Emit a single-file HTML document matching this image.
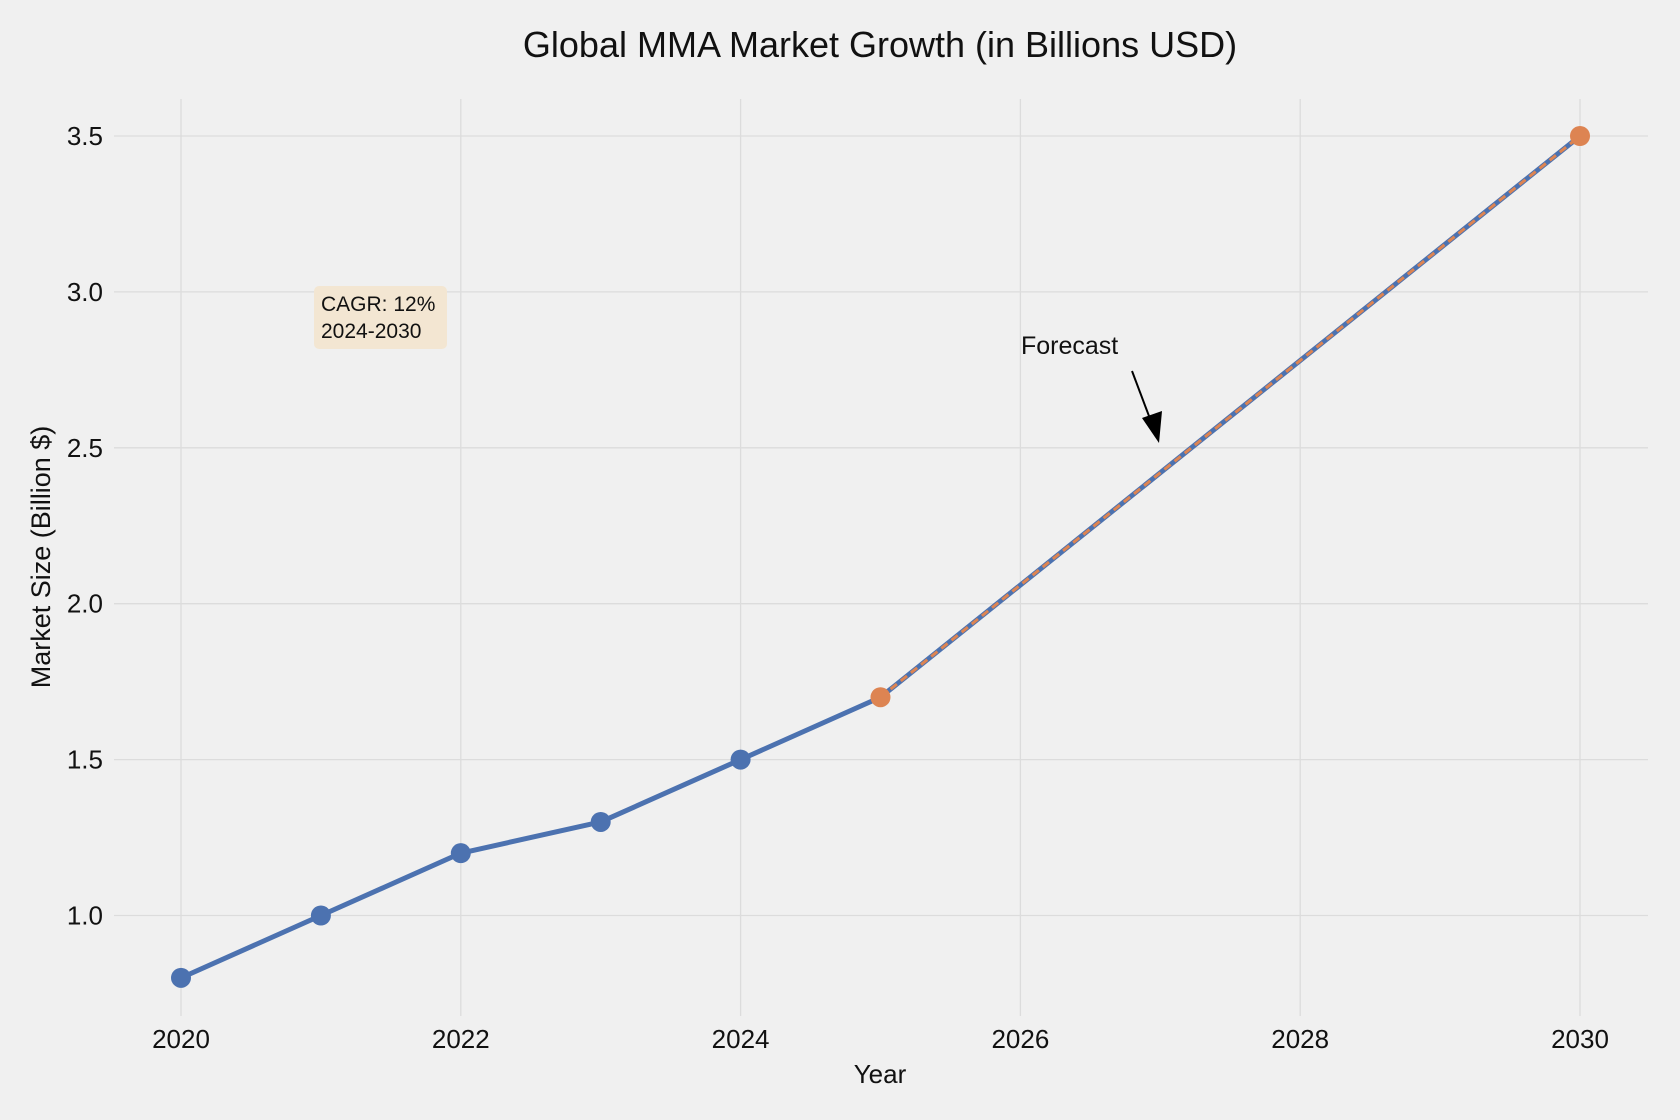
<!DOCTYPE html>
<html><head><meta charset="utf-8"><style>
html,body{margin:0;padding:0;background:#f0f0f0;}
svg{display:block;font-family:"Liberation Sans","DejaVu Sans",sans-serif;}
</style></head><body>
<svg id="chart" width="1680" height="1120" viewBox="0 0 1680 1120">
<rect width="1680" height="1120" fill="#f0f0f0"/>
<text x="880" y="57" text-anchor="middle" font-size="36" fill="#111">Global MMA Market Growth (in Billions USD)</text>
<g id="grid"></g>
<g id="xticks"></g>
<g id="yticks"></g>
<text x="880" y="1083" text-anchor="middle" font-size="26" fill="#111">Year</text>
<text transform="translate(50,557) rotate(-90)" text-anchor="middle" font-size="27" fill="#111">Market Size (Billion $)</text>
<g id="series"></g>
<g>
<rect x="314" y="286" width="133" height="63" rx="5" fill="#f3e6d2"/>
<text x="321" y="311" font-size="21" fill="#111">CAGR: 12%</text>
<text x="321" y="338" font-size="21" fill="#111">2024-2030</text>
</g>
<g>
<text x="1021" y="354" font-size="25" fill="#111">Forecast</text>
<line x1="1132" y1="371" x2="1152" y2="424" stroke="#000" stroke-width="2"/>
<polygon points="1159,443 1142,418 1162,411" fill="#000"/>
</g>
</svg>
<script>
const years=[2020,2021,2022,2023,2024,2025,2030];
const values=[0.8,1.0,1.2,1.3,1.5,1.7,3.5];
const forecastYears=[2025,2030];
const forecastValues=[1.7,3.5];
const xTicks=[2020,2022,2024,2026,2028,2030];
const yTicks=[1.0,1.5,2.0,2.5,3.0,3.5];
const NS="http://www.w3.org/2000/svg";
const X=v=>181+(v-2020)*139.9;
const Y=v=>915.5-(v-1.0)*311.8;
function mk(parent,tag,attrs){const e=document.createElementNS(NS,tag);for(const k in attrs)e.setAttribute(k,attrs[k]);document.getElementById(parent).appendChild(e);return e;}
xTicks.forEach(t=>{
 const l=mk('grid','line',{x1:X(t),x2:X(t),y1:99,y2:1016,stroke:'#dcdcdc','stroke-width':1.3});
 
 
 const tx=mk('xticks','text',{x:X(t),y:1048,'text-anchor':'middle','font-size':26,fill:'#111'});
 tx.textContent=t;
 
 
});
yTicks.forEach(t=>{
 const l=mk('grid','line',{x1:114,x2:1648,y1:Y(t),y2:Y(t),stroke:'#dcdcdc','stroke-width':1.3});
 
 
 const tx=mk('yticks','text',{x:103,y:Y(t)+9,'text-anchor':'end','font-size':26,fill:'#111'});
 tx.textContent=t.toFixed(1);
 
 
});
const main=mk('series','polyline',{points:years.map((y,i)=>X(y)+','+Y(values[i])).join(' '),fill:'none',stroke:'#4c72b0','stroke-width':5,'stroke-linejoin':'round'});


const fc=mk('series','polyline',{points:forecastYears.map((y,i)=>X(y)+','+Y(forecastValues[i])).join(' '),fill:'none',stroke:'#dd8452','stroke-width':3,'stroke-dasharray':'8,5'});


years.forEach((y,i)=>{
 if(forecastYears.includes(y))return;
 const c=mk('series','circle',{cx:X(y),cy:Y(values[i]),r:10,fill:'#4c72b0'});
 
 
});
forecastYears.forEach((y,i)=>{
 const c=mk('series','circle',{cx:X(y),cy:Y(forecastValues[i]),r:10,fill:'#dd8452'});
 
 
});
</script>
</body></html>
